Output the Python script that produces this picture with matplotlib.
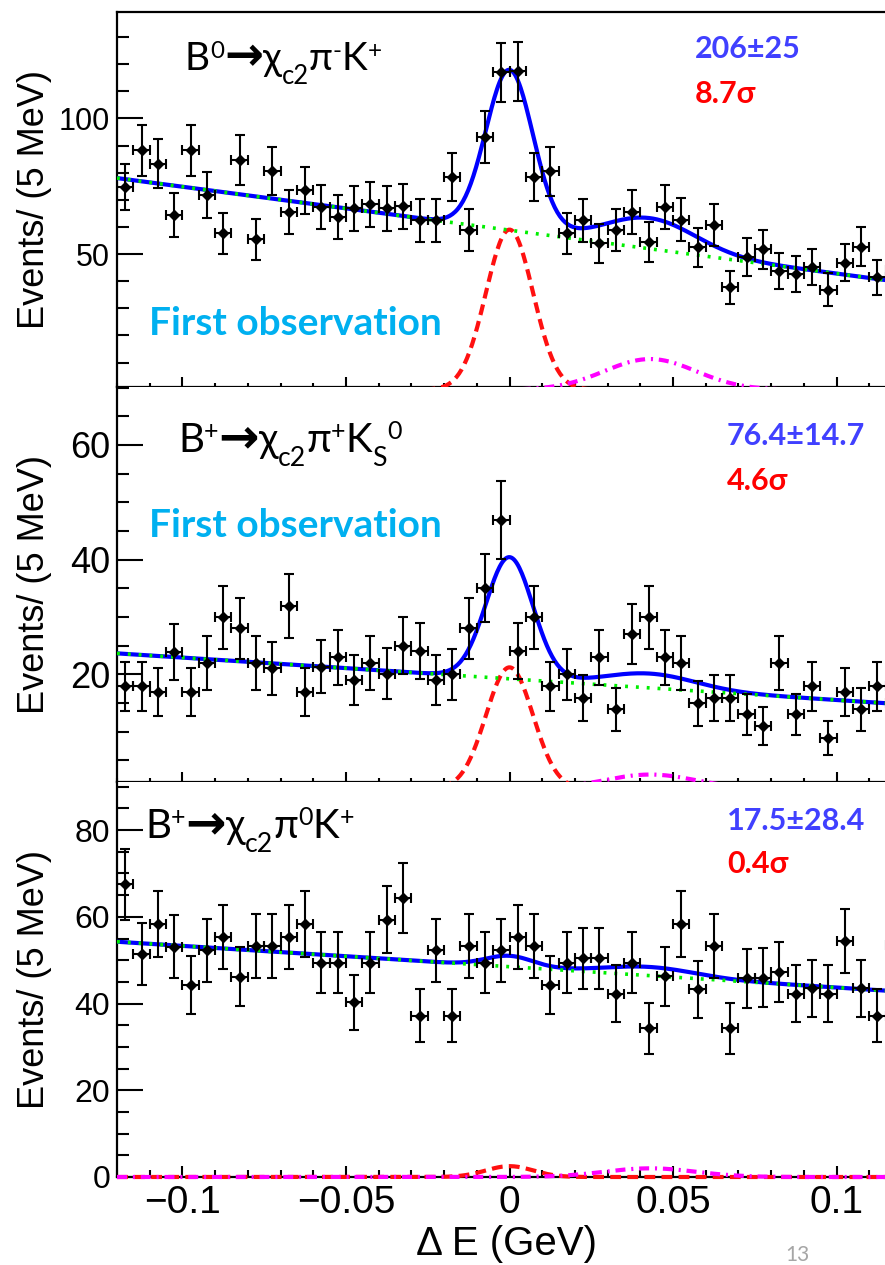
import numpy as np
import matplotlib
matplotlib.use("Agg")
import matplotlib.pyplot as plt
from matplotlib.ticker import MultipleLocator, FixedLocator

W, H = 885, 1265

plt.rcParams["font.family"] = ["Liberation Sans", "DejaVu Sans"]
slide_font = ["Lato", "DejaVu Sans"]

# Delta E bin centres, 5 MeV bins over [-0.12, 0.12] GeV
de_centres = np.linspace(-0.1175, 0.1175, 48)

counts_b0 = [74.7, 88.2, 83.3, 64.3, 88.2, 71.7, 57.6, 84.6, 55.4, 80.6,
             65.4, 73.5, 67.4, 63.7, 66.8, 68.4, 66.8, 67.6, 62.5, 62.5,
             78.4, 58.8, 93.1, 117.0, 117.3, 78.4, 80.5, 57.6, 62.5, 53.9,
             58.8, 65.6, 54.5, 67.4, 62.7, 52.5, 60.7, 37.7, 48.8, 51.7,
             43.9, 42.6, 45.3, 36.8, 46.8, 52.7, 41.4, 44.0]

counts_bp_ks = [17.9, 17.9, 16.9, 23.9, 16.9, 21.9, 29.9, 28.0, 22.0, 21.0,
                31.9, 16.9, 21.3, 23.0, 19.0, 22.0, 20.1, 25.0, 24.1, 19.0,
                20.0, 28.0, 35.0, 46.9, 24.0, 29.9, 17.9, 20.0, 15.9, 23.0,
                13.9, 27.0, 29.9, 23.0, 22.0, 14.9, 15.9, 15.9, 13.0, 11.0,
                22.0, 13.0, 17.9, 8.9, 16.9, 13.9, 17.9, 15.0]

counts_bp_pi0 = [67.5, 51.4, 58.3, 53.1, 44.3, 52.3, 55.3, 46.2, 53.3, 53.3,
                 55.3, 58.3, 49.4, 49.4, 40.3, 49.4, 59.3, 64.4, 37.2, 52.3,
                 37.2, 53.3, 49.4, 52.3, 55.4, 53.3, 44.3, 49.4, 50.4, 50.4,
                 42.3, 49.4, 34.3, 46.3, 58.3, 43.3, 53.3, 34.3, 45.8, 46.0,
                 47.3, 42.3, 43.5, 42.3, 54.4, 43.5, 37.2, 53.5]

# fit components: background (intercept, slope), chi_c2 peak and second peak (amp, mean, width)
bkg_b0, sig_b0, pk2_b0 = (58.8, -160.0), (59.0, 0.0, 0.0072), (11.3, 0.043, 0.014)
bkg_ks, sig_ks, pk2_ks = (19.2, -37.0), (21.2, 0.0, 0.0072), (2.5, 0.043, 0.014)
bkg_pi0, sig_pi0, pk2_pi0 = (48.5, -48.0), (2.5, 0.0, 0.0072), (2.0, 0.043, 0.014)

yields = ["206\u00b125", "76.4\u00b114.7", "17.5\u00b128.4"]
signif = ["8.7\u03c3", "4.6\u03c3", "0.4\u03c3"]

label_b0 = [("B", "n"), ("0", "sup"), ("\u2192", "arrow"), ("\u03c7", "n"), ("c2", "sub"),
            ("\u03c0", "n"), ("-", "sup"), ("K", "n"), ("+", "sup")]
label_ks = [("B", "n"), ("+", "sup"), ("\u2192", "arrow"), ("\u03c7", "n"), ("c2", "sub"),
            ("\u03c0", "n"), ("+", "sup"), ("K", "n"), ("S", "sub"), ("0", "sup")]
label_pi0 = [("B", "n"), ("+", "sup"), ("\u2192", "arrow"), ("\u03c7", "n"), ("c2", "sub"),
             ("\u03c0", "n"), ("0", "sup"), ("K", "n"), ("+", "sup")]


def gauss(x, amp, mean, width):
    return amp * np.exp(-0.5 * ((x - mean) / width) ** 2)


def fx(x):
    return x / W


def fy(y):
    return 1 - y / H


def draw_decay(fig, x, base, pieces, size):
    # lay the pieces out one after another along a common baseline
    r = fig.canvas.get_renderer()
    spx = size * 100 / 72
    for s, role in pieces:
        if role == "n":
            fs, dy, fam, wt = size, 0, slide_font, "normal"
        elif role == "sup":
            fs, dy, fam, wt = size * 0.62, 0.32 * spx, slide_font, "normal"
        elif role == "sub":
            fs, dy, fam, wt = size * 0.66, -0.36 * spx, slide_font, "normal"
        else:
            fs, dy, fam, wt = size * 1.2, 0.0, ["DejaVu Sans"], "bold"
        t = fig.text(fx(x), fy(base - dy), s, fontsize=fs, family=fam,
                     fontweight=wt, va="baseline", ha="left")
        x = t.get_window_extent(r).x1


fig = plt.figure(figsize=(W / 100, H / 100), dpi=100)

panels = [
    (counts_b0, bkg_b0, sig_b0, pk2_b0, (1.0, 139.2), [50, 100], 10, 12, 387),
    (counts_bp_ks, bkg_ks, sig_ks, pk2_ks, (1.2, 70.1), [20, 40, 60], 5, 387, 782),
    (counts_bp_pi0, bkg_pi0, sig_pi0, pk2_pi0, (0, 91.1), [0, 20, 40, 60, 80], 5, 782, 1177),
]
tick_sizes = [22, 26, 23]
xcurve = np.linspace(-0.12, 0.12, 600)

for i, (cnt, bkg, sig, pk2, ylim, ymaj, ymin_step, top, bot) in enumerate(panels):
    ax = fig.add_axes([fx(117), fy(bot), (902 - 117) / W, (bot - top) / H])
    cnt = np.array(cnt)
    b = bkg[0] + bkg[1] * xcurve
    s1 = gauss(xcurve, *sig)
    s2 = gauss(xcurve, *pk2)
    last = i == 2
    ax.plot(xcurve, s1, color="#ff1010", lw=3.0, ls=(0, (2.6, 1.5)), clip_on=not last, zorder=3)
    ax.plot(xcurve, s2, color="#ff00ff", lw=3.0, ls=(0, (2.4, 1.4, 0.5, 1.4)), clip_on=not last, zorder=3)
    ax.plot(xcurve, b + s1 + s2, color="#0000ff", lw=3.0, zorder=4)
    ax.plot(xcurve, b, color="#00ee00", lw=2.6, ls=(0, (0.8, 2.2)), zorder=5)
    ax.errorbar(de_centres, cnt, yerr=np.sqrt(cnt), xerr=0.0025, fmt="D", ms=5.5,
                color="black", lw=1.5, capsize=3.5, capthick=1.5, zorder=6)

    ax.set_xlim(-0.12, 0.12)
    ax.set_ylim(*ylim)
    ax.yaxis.set_major_locator(FixedLocator(ymaj))
    ax.yaxis.set_minor_locator(MultipleLocator(ymin_step))
    ax.xaxis.set_major_locator(MultipleLocator(0.05))
    ax.xaxis.set_minor_locator(MultipleLocator(0.01))
    ax.tick_params(which="both", direction="in", width=1.5, colors="black")
    ax.tick_params(axis="y", which="major", length=19, pad=5, labelsize=tick_sizes[i])
    ax.tick_params(axis="y", which="minor", length=8.5)
    ax.tick_params(axis="x", which="major", length=8 if last else 7)
    ax.tick_params(axis="x", which="minor", length=5 if last else 3)
    for sp in ax.spines.values():
        sp.set_linewidth(1.6)
    if i > 0:
        ax.spines["top"].set_visible(False)
    if last:
        ax.set_xticks([-0.1, -0.05, 0, 0.05, 0.1])
        ax.set_xticklabels(["\u22120.1", "\u22120.05", "0", "0.05", "0.1"])
        ax.tick_params(axis="x", which="major", labelsize=28, pad=6)
    else:
        ax.tick_params(axis="x", labelbottom=False)

    fig.text(fx(35), fy((top + bot) / 2), "Events/ (5 MeV)", rotation=90,
             ha="center", va="center", fontsize=26)

fig.text(fx(506), fy(1255), "\u0394 E (GeV)", ha="center", va="baseline", fontsize=29)

# decay channel labels
draw_decay(fig, 185, 70, label_b0, 28)
draw_decay(fig, 178, 452, label_ks, 29)
draw_decay(fig, 145, 838, label_pi0, 29)

for base in (335, 537):
    fig.text(fx(149), fy(base), "First observation", color="#00b0f0",
             fontsize=28, fontweight="bold", family=slide_font, va="baseline")

for (xn, yb1, yb2), yl, sg in zip([(695, 58, 103), (727, 445, 490), (727, 830, 873)], yields, signif):
    fig.text(fx(xn), fy(yb1), yl, color="#4040ff", fontsize=22, fontweight="bold",
             family=slide_font, va="baseline")
    fig.text(fx(xn), fy(yb2), sg, color="#ff0000", fontsize=22, fontweight="bold",
             family=slide_font, va="baseline")

fig.text(fx(785), fy(1261), "13", color="#a6a6a6", fontsize=15, family=slide_font, va="baseline")

fig.savefig("out.png", dpi=100)
